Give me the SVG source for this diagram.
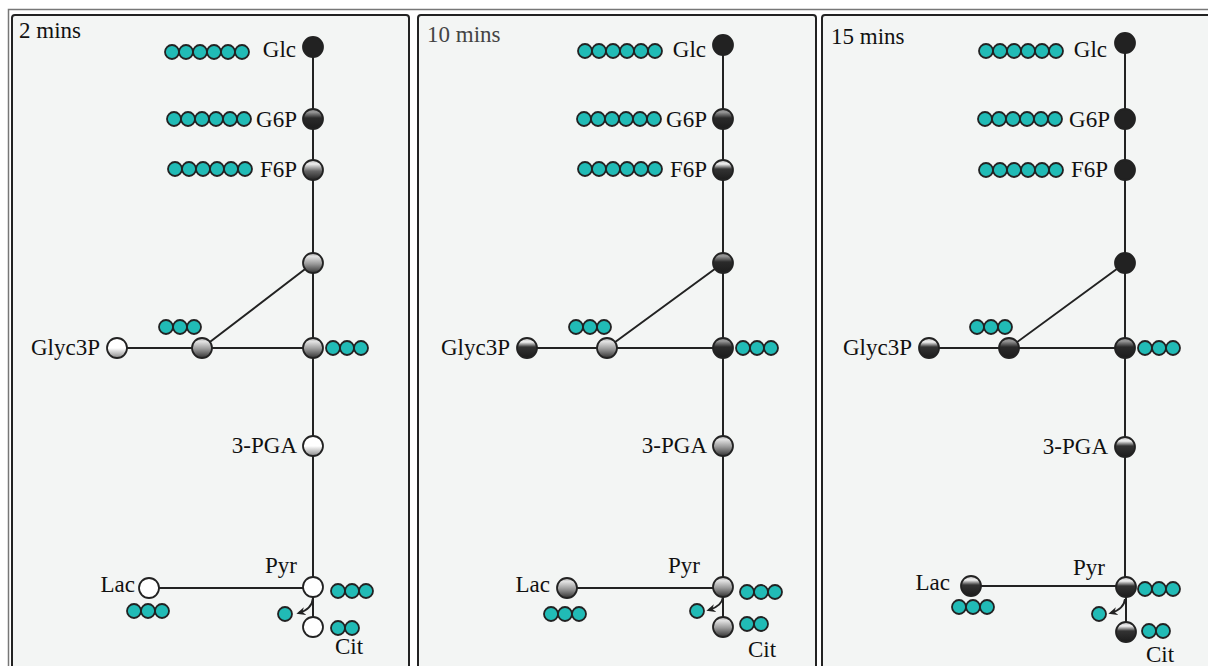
<svg xmlns="http://www.w3.org/2000/svg" width="1208" height="666" viewBox="0 0 1208 666">
<style>
.panel{fill:#f3f5f4;stroke:#222;stroke-width:2}
.ln{stroke:#222;stroke-width:2;fill:none}
.nd{stroke:#222;stroke-width:1.8}
.bd{fill:#21bbb6;stroke:#222;stroke-width:1.8}
text{font-family:'Liberation Serif','Times New Roman','DejaVu Serif',serif;font-size:23px;fill:#111}
.e{text-anchor:end}
</style>
<defs>
<linearGradient id="g1" x1="0" y1="0" x2="0" y2="1"><stop offset="0" stop-color="#fff"/><stop offset="0.5" stop-color="#fff"/><stop offset="1" stop-color="#8a8a8a"/></linearGradient>
<linearGradient id="g2" x1="0" y1="0" x2="0" y2="1"><stop offset="0" stop-color="#aaa"/><stop offset="0.18" stop-color="#e2e2e2"/><stop offset="0.55" stop-color="#999"/><stop offset="1" stop-color="#333"/></linearGradient>
<linearGradient id="g2b" x1="0" y1="0" x2="0" y2="1"><stop offset="0" stop-color="#bbb"/><stop offset="0.2" stop-color="#eee"/><stop offset="0.55" stop-color="#666"/><stop offset="1" stop-color="#222"/></linearGradient>
<linearGradient id="g3" x1="0" y1="0" x2="0" y2="1"><stop offset="0" stop-color="#bbb"/><stop offset="0.2" stop-color="#f2f2f2"/><stop offset="0.45" stop-color="#333"/><stop offset="1" stop-color="#1c1c1c"/></linearGradient>
<linearGradient id="g4" x1="0" y1="0" x2="0" y2="1"><stop offset="0" stop-color="#777"/><stop offset="0.15" stop-color="#9a9a9a"/><stop offset="0.45" stop-color="#2a2a2a"/><stop offset="1" stop-color="#1c1c1c"/></linearGradient>
<marker id="ah" viewBox="0 0 10 10" refX="7" refY="5" markerWidth="9" markerHeight="9" orient="auto" markerUnits="userSpaceOnUse"><path d="M0,0.5 L10,5 L0,9.5 L3,5 Z" fill="#222"/></marker>
</defs>
<rect x="0" y="0" width="1208" height="666" fill="#fff"/>
<rect x="8.5" y="9.5" width="1215" height="670" fill="#fff" stroke="#777" stroke-width="1.5"/>
<rect class="panel" x="12" y="15" width="397" height="665" rx="3"/>
<rect class="panel" x="418" y="15" width="398" height="665" rx="3"/>
<rect class="panel" x="822" y="15" width="400" height="665" rx="3"/>

<g id="connectors">
<path class="ln" d="M313,47 V587 M313,587 V627 M202,348 H313 M117,348 H202 M202,348 L313,263 M149,588 H313"/>
<path class="ln" d="M313,598 Q312,609 299,613" marker-end="url(#ah)"/>
<path class="ln" d="M723,45 V587 M723,587 V627 M607,348 H723 M527,348 H607 M607,348 L723,263 M567,588 H723"/>
<path class="ln" d="M723,597 Q722,606 709,610" marker-end="url(#ah)"/>
<path class="ln" d="M1125,43 V587 M1126,587 V632 M1009,348 H1125 M929,348 H1009 M1009,348 L1125,263 M971,586 H1126"/>
<path class="ln" d="M1125,599 Q1124,609 1111,613" marker-end="url(#ah)"/>
</g>

<g id="panel1">
<text x="19" y="38">2 mins</text>
<g id="p1-glc"><circle class="nd" cx="313" cy="47" r="10" fill="#222"/><text class="e" x="296" y="57">Glc</text>
<circle class="bd" cx="172" cy="52" r="7"/><circle class="bd" cx="186" cy="52" r="7"/><circle class="bd" cx="200" cy="52" r="7"/><circle class="bd" cx="214" cy="52" r="7"/><circle class="bd" cx="228" cy="52" r="7"/><circle class="bd" cx="242" cy="52" r="7"/></g>
<g id="p1-g6p"><circle class="nd" cx="313" cy="119" r="10" fill="url(#g4)"/><text class="e" x="297" y="127">G6P</text>
<circle class="bd" cx="174" cy="119" r="7"/><circle class="bd" cx="188" cy="119" r="7"/><circle class="bd" cx="202" cy="119" r="7"/><circle class="bd" cx="216" cy="119" r="7"/><circle class="bd" cx="230" cy="119" r="7"/><circle class="bd" cx="244" cy="119" r="7"/></g>
<g id="p1-f6p"><circle class="nd" cx="313" cy="170" r="10" fill="url(#g2b)"/><text class="e" x="297" y="177">F6P</text>
<circle class="bd" cx="175" cy="169" r="7"/><circle class="bd" cx="189" cy="169" r="7"/><circle class="bd" cx="203" cy="169" r="7"/><circle class="bd" cx="217" cy="169" r="7"/><circle class="bd" cx="231" cy="169" r="7"/><circle class="bd" cx="245" cy="169" r="7"/></g>
<g id="p1-fbp"><circle class="nd" cx="313" cy="263" r="10" fill="url(#g2)"/></g>
<g id="p1-mid"><circle class="nd" cx="202" cy="348" r="10" fill="url(#g2)"/>
<circle class="bd" cx="166" cy="327" r="7"/><circle class="bd" cx="180" cy="327" r="7"/><circle class="bd" cx="194" cy="327" r="7"/></g>
<g id="p1-junc"><circle class="nd" cx="313" cy="348" r="10" fill="url(#g2)"/>
<circle class="bd" cx="333" cy="348" r="7"/><circle class="bd" cx="347" cy="348" r="7"/><circle class="bd" cx="361" cy="348" r="7"/></g>
<g id="p1-glyc3p"><circle class="nd" cx="117" cy="348" r="10" fill="url(#g1)"/><text class="e" x="100" y="355">Glyc3P</text></g>
<g id="p1-3pga"><circle class="nd" cx="313" cy="446" r="10" fill="url(#g1)"/><text class="e" x="297" y="453">3-PGA</text></g>
<g id="p1-pyr"><circle class="nd" cx="313" cy="587" r="10" fill="#fff"/><text x="265" y="573">Pyr</text>
<circle class="bd" cx="338" cy="591" r="7"/><circle class="bd" cx="352" cy="591" r="7"/><circle class="bd" cx="366" cy="591" r="7"/>
<circle class="bd" cx="285" cy="614" r="7"/></g>
<g id="p1-lac"><circle class="nd" cx="149" cy="588" r="10" fill="#fff"/><text class="e" x="135" y="592">Lac</text>
<circle class="bd" cx="134" cy="611" r="7"/><circle class="bd" cx="148" cy="611" r="7"/><circle class="bd" cx="162" cy="611" r="7"/></g>
<g id="p1-cit"><circle class="nd" cx="313" cy="627" r="10" fill="#fff"/><text x="335" y="654">Cit</text>
<circle class="bd" cx="338" cy="628" r="7"/><circle class="bd" cx="352" cy="628" r="7"/></g>
</g>

<g id="panel2">
<text x="427" y="42" style="fill:#444">10 mins</text>
<g id="p2-glc"><circle class="nd" cx="723" cy="45" r="10" fill="#222"/><text class="e" x="706" y="57">Glc</text>
<circle class="bd" cx="585" cy="51" r="7"/><circle class="bd" cx="599" cy="51" r="7"/><circle class="bd" cx="613" cy="51" r="7"/><circle class="bd" cx="627" cy="51" r="7"/><circle class="bd" cx="641" cy="51" r="7"/><circle class="bd" cx="655" cy="51" r="7"/></g>
<g id="p2-g6p"><circle class="nd" cx="723" cy="119" r="10" fill="url(#g4)"/><text class="e" x="707" y="127">G6P</text>
<circle class="bd" cx="584" cy="119" r="7"/><circle class="bd" cx="598" cy="119" r="7"/><circle class="bd" cx="612" cy="119" r="7"/><circle class="bd" cx="626" cy="119" r="7"/><circle class="bd" cx="640" cy="119" r="7"/><circle class="bd" cx="654" cy="119" r="7"/></g>
<g id="p2-f6p"><circle class="nd" cx="723" cy="170" r="10" fill="url(#g3)"/><text class="e" x="707" y="177">F6P</text>
<circle class="bd" cx="585" cy="169" r="7"/><circle class="bd" cx="599" cy="169" r="7"/><circle class="bd" cx="613" cy="169" r="7"/><circle class="bd" cx="627" cy="169" r="7"/><circle class="bd" cx="641" cy="169" r="7"/><circle class="bd" cx="655" cy="169" r="7"/></g>
<g id="p2-fbp"><circle class="nd" cx="723" cy="263" r="10" fill="url(#g4)"/></g>
<g id="p2-mid"><circle class="nd" cx="607" cy="348" r="10" fill="url(#g2)"/>
<circle class="bd" cx="576" cy="327" r="7"/><circle class="bd" cx="590" cy="327" r="7"/><circle class="bd" cx="604" cy="327" r="7"/></g>
<g id="p2-junc"><circle class="nd" cx="723" cy="348" r="10" fill="url(#g4)"/>
<circle class="bd" cx="743" cy="348" r="7"/><circle class="bd" cx="757" cy="348" r="7"/><circle class="bd" cx="771" cy="348" r="7"/></g>
<g id="p2-glyc3p"><circle class="nd" cx="527" cy="348" r="10" fill="url(#g3)"/><text class="e" x="510" y="355">Glyc3P</text></g>
<g id="p2-3pga"><circle class="nd" cx="723" cy="446" r="10" fill="url(#g2)"/><text class="e" x="707" y="453">3-PGA</text></g>
<g id="p2-pyr"><circle class="nd" cx="723" cy="587" r="10" fill="url(#g2)"/><text x="668" y="573">Pyr</text>
<circle class="bd" cx="747" cy="592" r="7"/><circle class="bd" cx="761" cy="592" r="7"/><circle class="bd" cx="775" cy="592" r="7"/>
<circle class="bd" cx="697" cy="611" r="7"/></g>
<g id="p2-lac"><circle class="nd" cx="567" cy="588" r="10" fill="url(#g2)"/><text class="e" x="550" y="592">Lac</text>
<circle class="bd" cx="551" cy="614" r="7"/><circle class="bd" cx="565" cy="614" r="7"/><circle class="bd" cx="579" cy="614" r="7"/></g>
<g id="p2-cit"><circle class="nd" cx="723" cy="627" r="10" fill="url(#g2)"/><text x="748" y="657">Cit</text>
<circle class="bd" cx="747" cy="624" r="7"/><circle class="bd" cx="761" cy="624" r="7"/></g>
</g>

<g id="panel3">
<text x="831" y="44">15 mins</text>
<g id="p3-glc"><circle class="nd" cx="1125" cy="43" r="10" fill="#222"/><text class="e" x="1107" y="57">Glc</text>
<circle class="bd" cx="986" cy="51" r="7"/><circle class="bd" cx="1000" cy="51" r="7"/><circle class="bd" cx="1014" cy="51" r="7"/><circle class="bd" cx="1028" cy="51" r="7"/><circle class="bd" cx="1042" cy="51" r="7"/><circle class="bd" cx="1056" cy="51" r="7"/></g>
<g id="p3-g6p"><circle class="nd" cx="1125" cy="119" r="10" fill="#222"/><text class="e" x="1110" y="127">G6P</text>
<circle class="bd" cx="985" cy="119" r="7"/><circle class="bd" cx="999" cy="119" r="7"/><circle class="bd" cx="1013" cy="119" r="7"/><circle class="bd" cx="1027" cy="119" r="7"/><circle class="bd" cx="1041" cy="119" r="7"/><circle class="bd" cx="1055" cy="119" r="7"/></g>
<g id="p3-f6p"><circle class="nd" cx="1125" cy="170" r="10" fill="#222"/><text class="e" x="1108" y="177">F6P</text>
<circle class="bd" cx="986" cy="170" r="7"/><circle class="bd" cx="1000" cy="170" r="7"/><circle class="bd" cx="1014" cy="170" r="7"/><circle class="bd" cx="1028" cy="170" r="7"/><circle class="bd" cx="1042" cy="170" r="7"/><circle class="bd" cx="1056" cy="170" r="7"/></g>
<g id="p3-fbp"><circle class="nd" cx="1125" cy="263" r="10" fill="#222"/></g>
<g id="p3-mid"><circle class="nd" cx="1009" cy="348" r="10" fill="url(#g4)"/>
<circle class="bd" cx="977" cy="327" r="7"/><circle class="bd" cx="991" cy="327" r="7"/><circle class="bd" cx="1005" cy="327" r="7"/></g>
<g id="p3-junc"><circle class="nd" cx="1125" cy="348" r="10" fill="url(#g4)"/>
<circle class="bd" cx="1145" cy="348" r="7"/><circle class="bd" cx="1159" cy="348" r="7"/><circle class="bd" cx="1173" cy="348" r="7"/></g>
<g id="p3-glyc3p"><circle class="nd" cx="929" cy="348" r="10" fill="url(#g3)"/><text class="e" x="912" y="355">Glyc3P</text></g>
<g id="p3-3pga"><circle class="nd" cx="1125" cy="447" r="10" fill="url(#g3)"/><text class="e" x="1108" y="454">3-PGA</text></g>
<g id="p3-pyr"><circle class="nd" cx="1126" cy="587" r="10" fill="url(#g3)"/><text x="1073" y="575">Pyr</text>
<circle class="bd" cx="1145" cy="589" r="7"/><circle class="bd" cx="1159" cy="589" r="7"/><circle class="bd" cx="1173" cy="589" r="7"/>
<circle class="bd" cx="1099" cy="614" r="7"/></g>
<g id="p3-lac"><circle class="nd" cx="971" cy="586" r="10" fill="url(#g3)"/><text class="e" x="950" y="590">Lac</text>
<circle class="bd" cx="959" cy="607" r="7"/><circle class="bd" cx="973" cy="607" r="7"/><circle class="bd" cx="987" cy="607" r="7"/></g>
<g id="p3-cit"><circle class="nd" cx="1126" cy="632" r="10" fill="url(#g3)"/><text x="1146" y="662">Cit</text>
<circle class="bd" cx="1149" cy="631" r="7"/><circle class="bd" cx="1163" cy="631" r="7"/></g>
</g>
</svg>
